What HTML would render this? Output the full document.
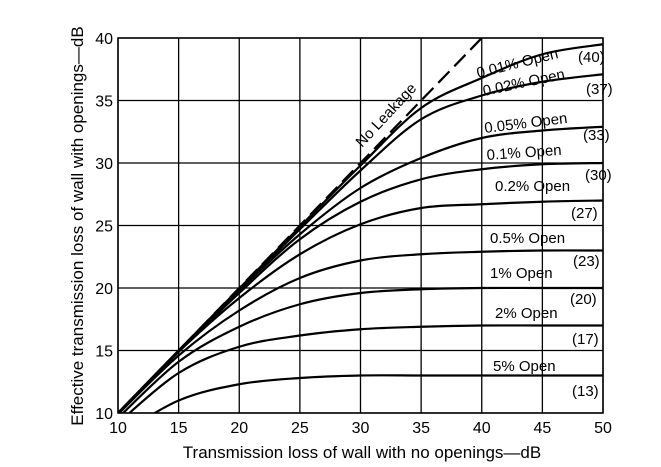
<!DOCTYPE html>
<html><head><meta charset="utf-8"><style>
body{margin:0;background:#fff;}
svg{display:block;font-family:"Liberation Sans",sans-serif;}
</style></head><body>
<svg id="chart" width="661" height="467" viewBox="0 0 661 467" xmlns="http://www.w3.org/2000/svg">
<g id="grid"></g>
<g id="curves"></g>
<g id="labels"></g>
<g id="ticks"></g>
<text x="362" y="458" font-size="17" text-anchor="middle">Transmission loss of wall with no openings—dB</text>
<text transform="translate(83,226) rotate(-90)" font-size="17" text-anchor="middle">Effective transmission loss of wall with openings—dB</text>
<text transform="translate(362,148) rotate(-47)" font-size="15">No Leakage</text>
</svg>
<script>
const xTicks=[10,15,20,25,30,35,40,45,50];
const yTicks=[10,15,20,25,30,35,40];
const xs=[10,15,20,25,30,35,40,45,50];
const curveNames=["0.01%","0.02%","0.05%","0.1%","0.2%","0.5%","1%","2%","5%"];
const s001=[10,15,19.96,24.9,29.8,34.4,36.8,38.7,39.5];
const s002=[10,15,19.9,24.7,29.4,33.5,35.4,36.5,37.1];
const s005=[10,14.9,19.8,24.3,28,30.4,32,32.6,32.9];
const s01=[10,14.9,19.6,23.9,26.9,28.7,29.5,29.9,30];
const s02=[10,14.9,19.2,22.7,25.1,26.4,26.7,26.9,27];
const s05=[9.9,14.6,18.2,20.8,22.2,22.7,22.9,23,23];
const s1=[9.6,14.1,16.9,18.7,19.6,19.9,20,20,20];
const s2=[9.2,13.2,15.3,16.2,16.7,16.9,17,17,17];
const s5=[8.2,11,12.3,12.8,13,13,13,13,13];
const noLeakX=[10,40];
const noLeakY=[10,40];
const labelTexts=["0.01% Open","0.02% Open","0.05% Open","0.1% Open","0.2% Open","0.5% Open","1% Open","2% Open","5% Open","(40)","(37)","(33)","(30)","(27)","(23)","(20)","(17)","(13)"];

const X0=118,X1=603,Y0=413,Y1=38;
const sx=v=>X0+(v-10)*(X1-X0)/40;
const sy=v=>Y0-(v-10)*(Y0-Y1)/30;
const NS="http://www.w3.org/2000/svg";
function mk(tag,attrs,parent){const e=document.createElementNS(NS,tag);for(const k in attrs)e.setAttribute(k,attrs[k]);parent.appendChild(e);return e;}

const grid=document.getElementById('grid');
xTicks.forEach(t=>{const l=mk('line',{x1:sx(t),x2:sx(t),y1:Y1,y2:Y0,stroke:'#000','stroke-width':1.3},grid);

});
yTicks.forEach(t=>{const l=mk('line',{x1:X0,x2:X1,y1:sy(t),y2:sy(t),stroke:'#000','stroke-width':1.3},grid);

});
const fr=mk('rect',{x:X0,y:Y1,width:X1-X0,height:Y0-Y1,fill:'none',stroke:'#000','stroke-width':1.5},grid);



const ticks=document.getElementById('ticks');
xTicks.forEach(t=>{const e=mk('text',{x:sx(t),y:433,'font-size':16,'text-anchor':'middle'},ticks);e.textContent=t;

});
yTicks.forEach(t=>{const e=mk('text',{x:113,y:sy(t)+6,'font-size':16,'text-anchor':'end'},ticks);e.textContent=t;

});

const clip=mk('clipPath',{id:'pc'},document.getElementById('chart'));
mk('rect',{x:X0,y:Y1-2,width:X1-X0,height:Y0-Y1+2},clip);
const curves=document.getElementById('curves');
curves.setAttribute('clip-path','url(#pc)');
function smooth(xv,yv){const p=xv.map((x,i)=>[sx(x),sy(yv[i])]);let d=`M${p[0][0]},${p[0][1]}`;
for(let i=0;i<p.length-1;i++){const a=p[Math.max(0,i-1)],b=p[i],c=p[i+1],e=p[Math.min(p.length-1,i+2)];
d+=` C${b[0]+(c[0]-a[0])/6},${b[1]+(c[1]-a[1])/6} ${c[0]-(e[0]-b[0])/6},${c[1]-(e[1]-b[1])/6} ${c[0]},${c[1]}`;}return d;}
[s001,s002,s005,s01,s02,s05,s1,s2,s5].forEach((s,i)=>{const p=mk('path',{d:smooth(xs,s),fill:'none',stroke:'#000','stroke-width':2.2},curves);

});
const nl=mk('line',{x1:sx(noLeakX[0]),y1:sy(noLeakY[0]),x2:sx(noLeakX[1]),y2:sy(noLeakY[1]),stroke:'#000','stroke-width':2.2,'stroke-dasharray':'16,7'},curves);



const lp=[[478,78,-14],[484,96,-12],[485,133,-7],[487,160,-4],[495,191,0],[490,243,0],[490,278,0],[495,318,0],[493,371,0],
[578,62,0],[586,94,0],[583,140,0],[585,180,0],[571,218,0],[573,266,0],[570,304,0],[572,344,0],[572,396,0]];
const lg=document.getElementById('labels');
labelTexts.forEach((t,i)=>{const [x,y,r]=lp[i];const e=mk('text',{transform:`translate(${x},${y}) rotate(${r})`,'font-size':15},lg);e.textContent=t;

});
</script>
</body></html>
